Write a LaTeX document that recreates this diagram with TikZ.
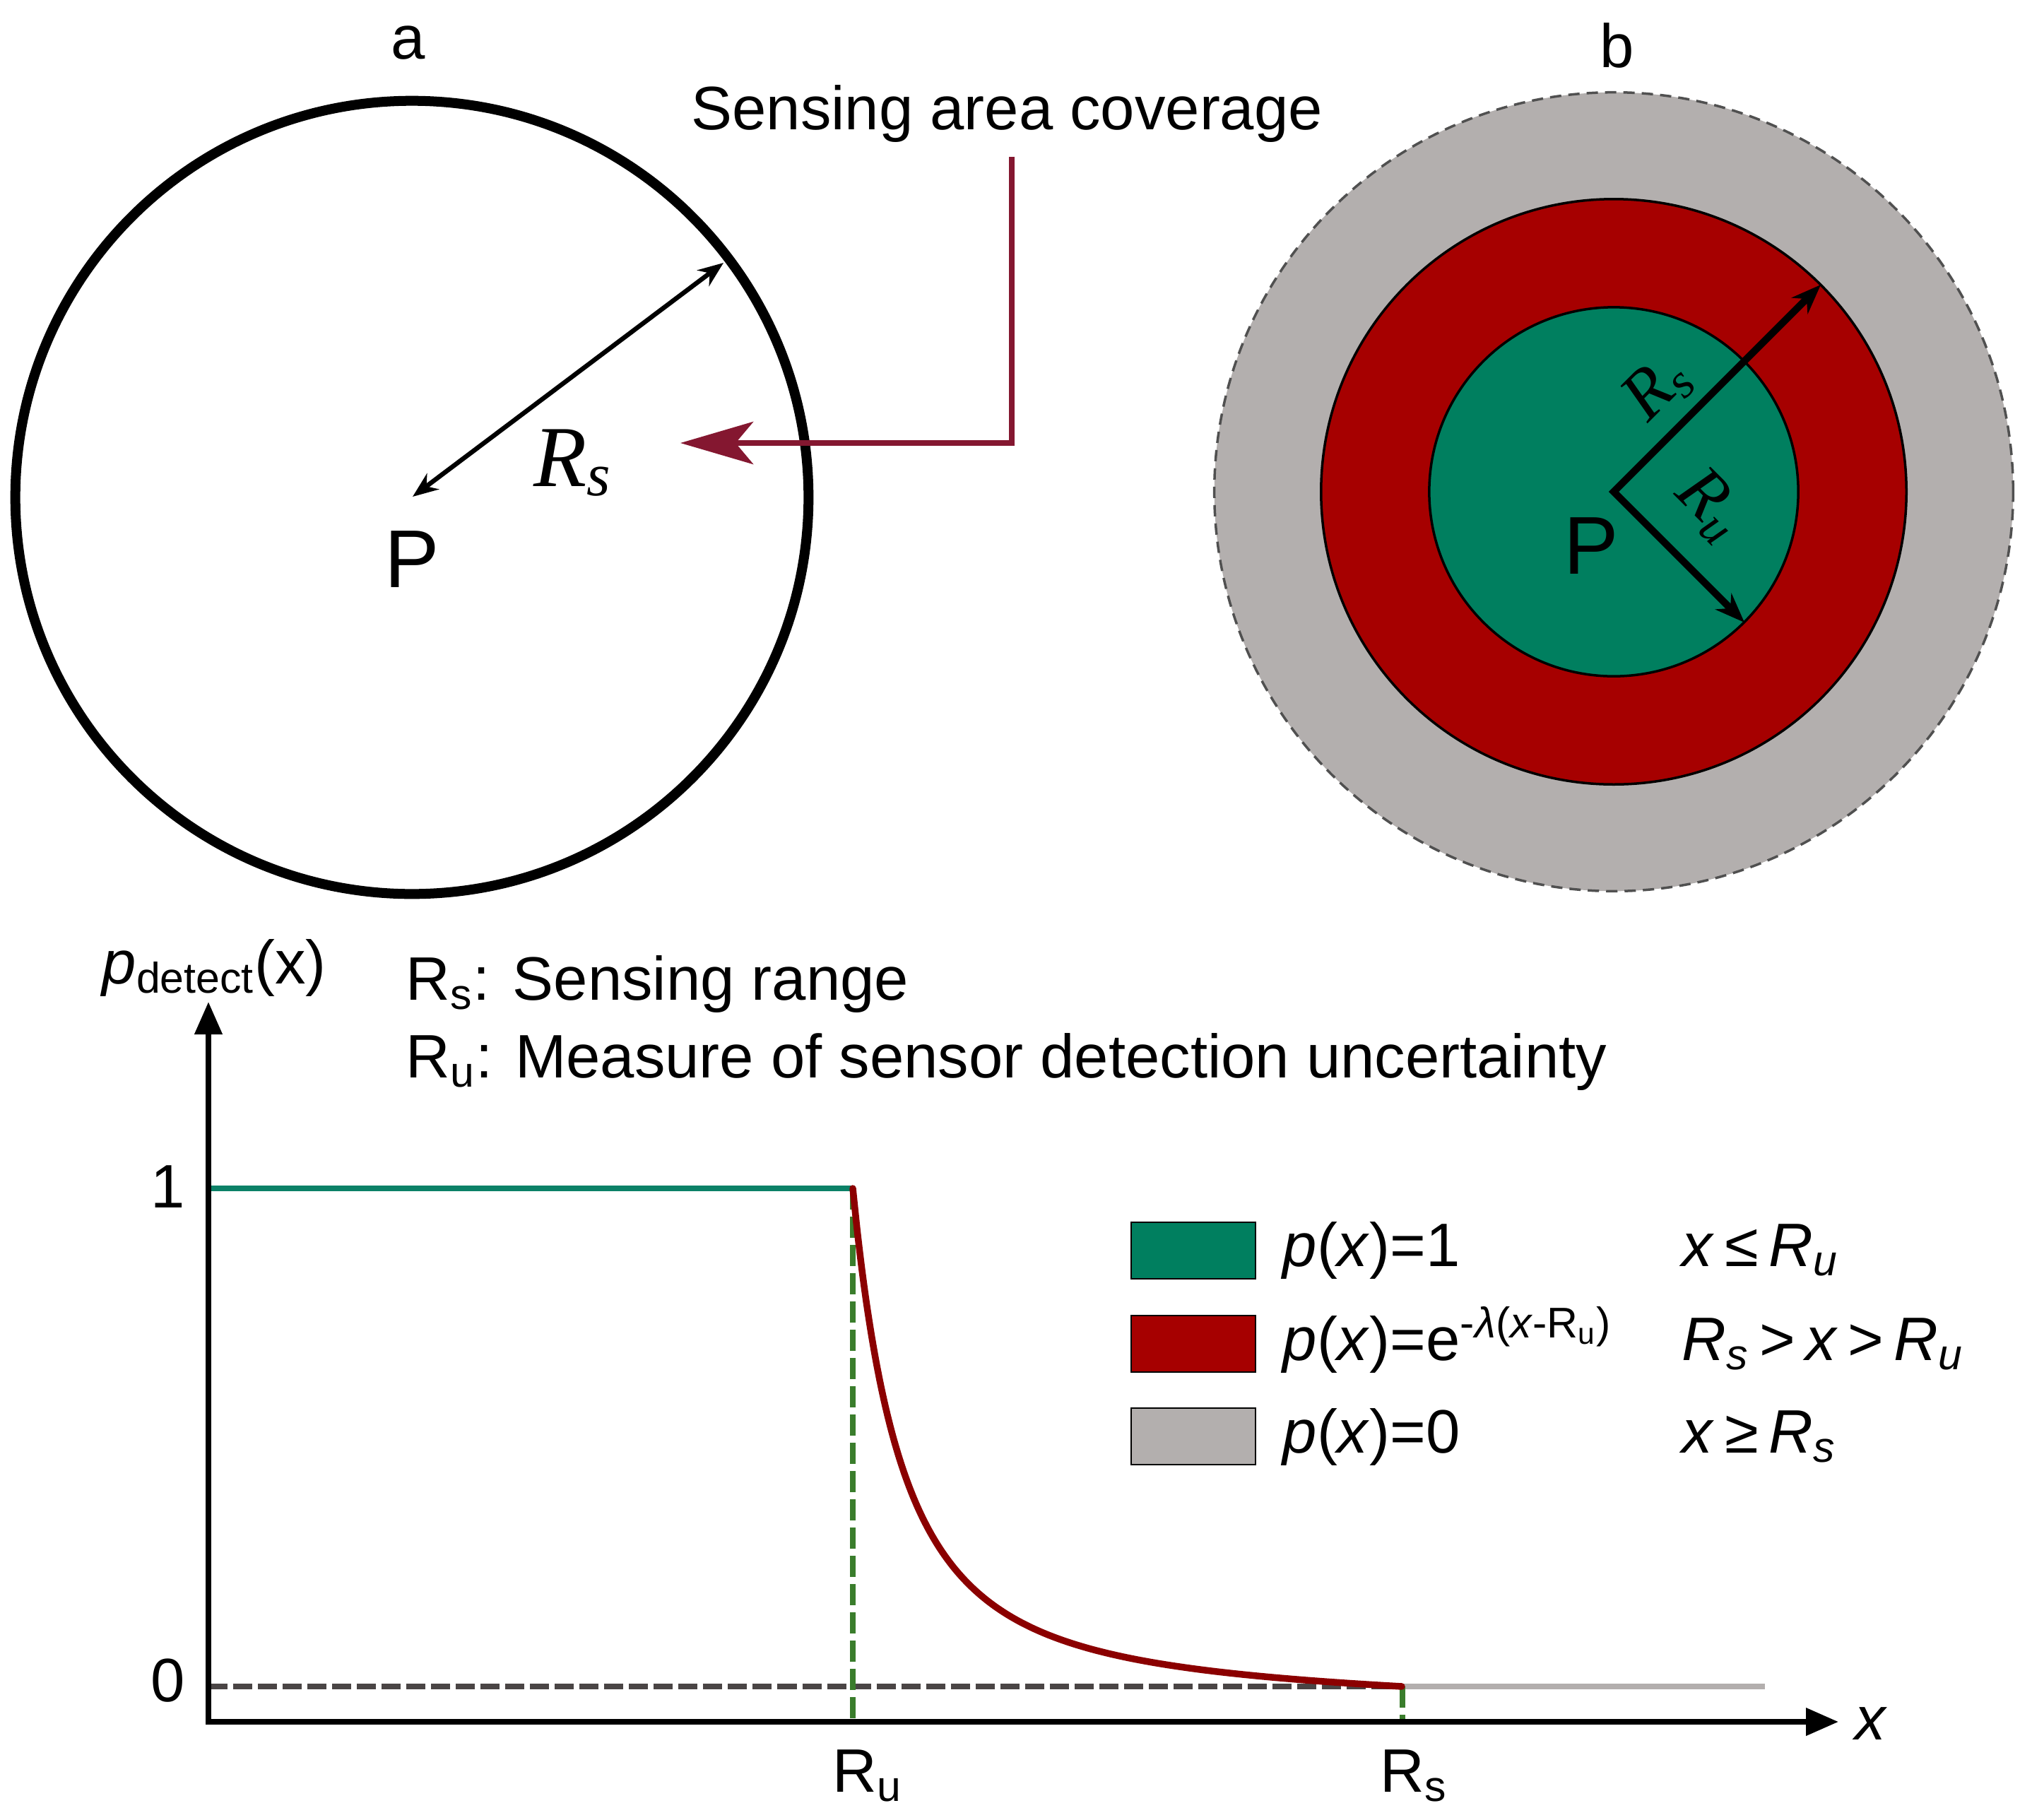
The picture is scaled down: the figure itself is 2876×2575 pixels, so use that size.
\documentclass[tikz,border=0pt]{standalone}
\usepackage{fontspec}
\setmainfont{Liberation Sans}
\newfontfamily\radiusfont{Liberation Serif}
\usetikzlibrary{arrows.meta}
\definecolor{zonegreen}{HTML}{007F5F}
\definecolor{zonered}{HTML}{A60000}
\definecolor{zonegray}{HTML}{B3AFAE}
\definecolor{edgegray}{HTML}{505050}
\definecolor{pointerred}{HTML}{841730}
\definecolor{curvered}{HTML}{8B0000}
\definecolor{markgreen}{HTML}{3A7D2C}
\definecolor{zerogray}{HTML}{4A4545}
\definecolor{levelgreen}{HTML}{0B8167}

\tikzset{
  lbl/.style={inner sep=0pt, font=\fontsize{24.7}{30}\selectfont},
  bigP/.style={inner sep=0pt, font=\fontsize{33}{38}\selectfont},
  zone/.style={draw=black, line width=0.035cm},
  legbox/.style={draw=black, line width=0.02cm, minimum width=1.76cm, minimum height=0.8cm, inner sep=0pt},
  disc arrow/.style={line width=0.065cm, {Stealth[length=0.36cm,width=0.28cm]}-{Stealth[length=0.36cm,width=0.28cm]}},
  ring arrow/.style={line width=0.1cm, line join=miter, {Stealth[length=0.42cm,width=0.32cm]}-{Stealth[length=0.42cm,width=0.32cm]}},
  pointer/.style={pointerred, line width=0.075cm, -{Stealth[length=1.03cm,width=0.6cm,inset=0.25cm]}},
  axis/.style={line width=0.075cm, line join=miter, {Triangle[length=0.46cm,width=0.38cm]}-{Triangle[length=0.46cm,width=0.38cm]}},
  marker/.style={markgreen, line width=0.075cm, dash pattern=on 0.3cm off 0.1cm}
}

\begin{document}
\begin{tikzpicture}[x=0.01cm, y=-0.01cm]
\useasboundingbox (0,0) rectangle (2876,2575);

% panel a: sensing disc
\node[lbl, anchor=base] (tagA) at (578,83) {a};
\coordinate (Pa) at (584,703);
\coordinate (rimA) at (1024,372);
\draw[line width=0.14cm] (583,704) circle[radius=5.61cm];
\draw[disc arrow] (Pa) -- (rimA);
\node[bigP, anchor=base] (pointA) at (583,831) {P};
\node[inner sep=0pt, anchor=base west, font=\fontsize{35}{40}\selectfont\radiusfont\itshape] (rsA) at (755,688) {R\textsubscript{s}};

% callout
\node[lbl, anchor=base west] (coverage) at (978,183) {Sensing area coverage};
\coordinate (bend) at (1432,627);
\coordinate (target) at (963,627);
\draw[pointer] ([yshift=-0.2cm]coverage.south -| bend) -- (bend) -- (target);

% panel b: detection zones
\node[lbl, anchor=base] (tagB) at (2289,95) {b};
\coordinate (Pb) at (2284,696);
\draw[edgegray, line width=0.035cm, dash pattern=on 0.16cm off 0.1cm, fill=zonegray] (Pb) circle[radius=5.65cm];
\draw[zone, fill=zonered] (Pb) circle[radius=4.14cm];
\draw[zone, fill=zonegreen] (Pb) circle[radius=2.61cm];
\coordinate (rimS) at (2577,403);
\coordinate (rimU) at (2469,881);
\draw[ring arrow] (rimS) -- (Pb) -- (rimU);
\node[bigP, anchor=base] (pointB) at (2252,812) {P};
\node[inner sep=0pt, rotate=45, font=\fontsize{28}{32}\selectfont\radiusfont\itshape] (rsB) at (2346,550) {R\textsubscript{s}};
\node[inner sep=0pt, rotate=-45, font=\fontsize{28}{32}\selectfont\radiusfont\itshape] (ruB) at (2420,716) {R\textsubscript{u}};

% detection probability plot
\node[lbl, anchor=base west] (ylabel) at (144,1392) {\textit{p}\textsubscript{detect}(x)};
\node[lbl, anchor=base west] (defS) at (574,1415) {R\textsubscript{s}: Sensing range};
\node[lbl, anchor=base west] (defU) at (574,1525) {R\textsubscript{u}: Measure of sensor detection uncertainty};

\coordinate (origin) at (295,2437);
\coordinate (ytip) at (295,1418);
\coordinate (xtip) at (2602,2437);
\coordinate (one) at (295,1682);
\coordinate (kneeU) at (1207,1682);
\coordinate (zero) at (295,2387);
\coordinate (kneeS) at (1985,2387);
\coordinate (tail) at (2498,2387);

\draw[zerogray, line width=0.075cm, dash pattern=on 0.27cm off 0.08cm] (zero) -- (kneeS);
\draw[zonegray, line width=0.075cm] (kneeS) -- (tail);
\draw[marker] (kneeU) -- (kneeU |- origin);
\draw[marker] (kneeS) -- (kneeS |- origin);
\draw[levelgreen, line width=0.075cm] (one) -- (kneeU);
\draw[curvered, line width=0.095cm, line cap=round] plot[domain=0:1, samples=120, smooth] ({1207+778*\x}, {2387-705*(1/(1+5.6*\x)^2-0.023*\x)});
\draw[axis] (ytip) -- (origin) -- (xtip);

\node[lbl] (tickone) at (238,1680) {1};
\node[lbl] (tickzero) at (238,2379) {0};
\node[lbl, anchor=base west] (tickU) at (1178,2536) {R\textsubscript{u}};
\node[lbl, anchor=base west] (tickS) at (1953,2536) {R\textsubscript{s}};
\node[lbl] (xlabel) at (2648,2440) {\textit{x}};

% legend
\node[legbox, fill=zonegreen] (legone) at (1689,1770) {};
\node[legbox, fill=zonered] (legexp) at (1689,1902) {};
\node[legbox, fill=zonegray] (legzero) at (1689,2033) {};
\node[lbl, anchor=base west] (legonetext) at (1815,1792) {\textit{p}(\textit{x})=1};
\node[lbl, anchor=base west] (legexptext) at (1815,1925) {\textit{p}(\textit{x})=e\textsuperscript{-\textit{λ}(\textit{x}-R\textsubscript{u})}};
\node[lbl, anchor=base west] (legzerotext) at (1815,2056) {\textit{p}(\textit{x})=0};
\node[lbl, anchor=base west] (legonecond) at (2380,1792) {\textit{x}\,≤\,\textit{R}\textsubscript{\textit{u}}};
\node[lbl, anchor=base west] (legexpcond) at (2380,1925) {\textit{R}\textsubscript{\textit{s}}\,>\,\textit{x}\,>\,\textit{R}\textsubscript{\textit{u}}};
\node[lbl, anchor=base west] (legzerocond) at (2380,2056) {\textit{x}\,≥\,\textit{R}\textsubscript{\textit{s}}};
\end{tikzpicture}
\end{document}
